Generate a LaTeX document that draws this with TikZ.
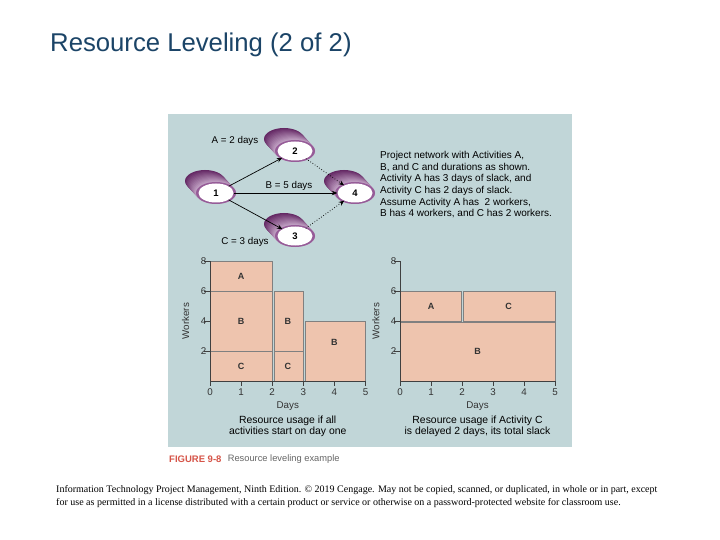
\documentclass[tikz,border=0pt]{standalone}
\usepackage{fontspec}
\setmainfont{Liberation Sans}
\newfontfamily\footfont{Liberation Serif}
\usetikzlibrary{arrows.meta,shapes.geometric,positioning}

\definecolor{panel}{RGB}{193,214,216}
\definecolor{titleblue}{RGB}{27,68,103}
\definecolor{block}{RGB}{238,196,174}
\definecolor{blockline}{RGB}{128,128,128}
\definecolor{purpdark}{RGB}{100,40,100}
\definecolor{purplight}{RGB}{215,190,218}
\definecolor{purpmid}{RGB}{150,92,152}
\definecolor{figred}{RGB}{214,84,72}

\tikzset{
  evt/.style={ellipse, fill=white, minimum width=35pt, minimum height=19pt,
    inner sep=0pt, font=\fontsize{9.5}{10}\selectfont\bfseries},
  act/.style={-{Stealth[length=5.5pt,width=4.5pt]}, line width=0.7pt},
  slack/.style={act, dotted, line width=0.8pt},
  lbl/.style={font=\fontsize{9.8}{11}\selectfont},
  blk/.style={fill=block, draw=blockline, line width=0.6pt},
  blklbl/.style={font=\fontsize{9}{10}\selectfont\bfseries, text=black!80},
  axis/.style={line width=0.6pt, black!75},
  ticklbl/.style={font=\fontsize{9.8}{11}\selectfont, text=black!80},
}

% event node: name, position, number
\newcommand{\drum}[3]{%
  \begin{scope}[shift={(#2)}]
    \foreach \k in {0,...,12}{
      \pgfmathsetmacro\mixk{100-\k*7}
      \fill[purpdark!\mixk!purplight] ({-11+\k*11/12},{-12+\k}) ellipse [x radius=20, y radius=11];
    }
    \fill[purpmid] (0,0) ellipse [x radius=20, y radius=11];
  \end{scope}
  \node[evt] (#1) at (#2) {#3};
}

\begin{document}
\begin{tikzpicture}[x=1pt,y=-1pt]

\fill[white] (0,0) rectangle (720,540);

\node[anchor=base west, inner sep=0pt, text=titleblue, font=\fontsize{25.7}{30}\selectfont] (title) at (50,52) {Resource Leveling (2 of 2)};

\fill[panel] (168,114) rectangle (572,447);

% network
\drum{n1}{216,193}{1}
\drum{n2}{295,151}{2}
\drum{n3}{295,236}{3}
\drum{n4}{355,193}{4}

\draw[act] (n1) -- (n2);
\draw[act] (n1) -- (n4);
\draw[act] (n1) -- (n3);
\draw[slack] (n2) -- (n4);
\draw[slack] (n3) -- (n4);

\node[lbl] (durA) at (235,141) {A = 2 days};
\node[lbl] (durB) at (289,186) {B = 5 days};
\node[lbl] (durC) at (245,242) {C = 3 days};

\node[anchor=north west, inner sep=0pt, align=left, font=\fontsize{10}{11.7}\selectfont] (note) at (380,151)
  {Project network with Activities A,\\
   B, and C and durations as shown.\\
   Activity A has 3 days of slack, and\\
   Activity C has 2 days of slack.\\
   Assume Activity A has\ \ 2 workers,\\
   B has 4 workers, and C has 2 workers.};

% all activities start on day one
\begin{scope}[shift={(210,381)}, x=31.1pt, y=15pt]
\draw[blk] (0,6) rectangle (2,8);
\draw[blk] (0,2) rectangle (2,6);
\draw[blk] (0,0) rectangle (2,2);
\draw[blk] (2.06,2) rectangle (3,6);
\draw[blk] (2.06,0) rectangle (3,2);
\draw[blk] (3.06,0) rectangle (5,4);
\node[blklbl] (la1) at (1,7) {A};
\node[blklbl] (lb1) at (1,4) {B};
\node[blklbl] (lc1) at (1,1) {C};
\node[blklbl] (lb2) at (2.5,4) {B};
\node[blklbl] (lc2) at (2.5,1) {C};
\node[blklbl] (lb3) at (4,2.6) {B};
\draw[axis] (0,8) -- (0,0) -- (5,0);
\foreach \y in {2,4,6,8}
  \draw[axis] (-0.2,\y) -- (0,\y) node[ticklbl, left=0pt] (ly\y) {\y};
\foreach \x in {0,...,5}
  \draw[axis] (\x,0) -- (\x,-0.3) node[ticklbl, below=0pt] (lx\x) {\x};
\node[ticklbl] (days1) at (2.5,-1.65) {Days};
\node[ticklbl, rotate=90] (work1) at (-0.78,4) {Workers};
\node[align=center, font=\fontsize{10.4}{11.3}\selectfont] (cap1) at (2.5,-3.02)
  {Resource usage if all\\activities start on day one};
\end{scope}

% activity C delayed 2 days
\begin{scope}[shift={(400,381)}, x=31pt, y=15pt]
\draw[blk] (0,4) rectangle (1.97,6);
\draw[blk] (2.03,4) rectangle (5,6);
\draw[blk] (0,0) rectangle (5,3.94);
\node[blklbl] (ra) at (1,5) {A};
\node[blklbl] (rc) at (3.5,5) {C};
\node[blklbl] (rb) at (2.5,2) {B};
\draw[axis] (0,8) -- (0,0) -- (5,0);
\foreach \y in {2,4,6,8}
  \draw[axis] (-0.2,\y) -- (0,\y) node[ticklbl, left=0pt] (ry\y) {\y};
\foreach \x in {0,...,5}
  \draw[axis] (\x,0) -- (\x,-0.3) node[ticklbl, below=0pt] (rx\x) {\x};
\node[ticklbl] (days2) at (2.5,-1.65) {Days};
\node[ticklbl, rotate=90] (work2) at (-0.78,4) {Workers};
\node[align=center, font=\fontsize{10.4}{11.3}\selectfont] (cap2) at (2.5,-3.02)
  {Resource usage if Activity C\\is delayed 2 days, its total slack};
\end{scope}

\node[anchor=west, inner sep=0pt, text=figred, font=\fontsize{9.5}{10}\selectfont\bfseries] (fig) at (169,459) {FIGURE 9-8};
\node[right=6pt of fig, inner sep=0pt, text=black!60, font=\fontsize{9.3}{10}\selectfont] (figtxt) {Resource leveling example};

\node[anchor=north west, inner sep=0pt, align=left, font=\footfont\fontsize{10}{13}\selectfont] (foot) at (56,485)
  {Information Technology Project Management, Ninth Edition. \textcopyright\ 2019 Cengage. May not be copied, scanned, or duplicated, in whole or in part, except\\
   for use as permitted in a license distributed with a certain product or service or otherwise on a password-protected website for classroom use.};

\end{tikzpicture}
\end{document}
